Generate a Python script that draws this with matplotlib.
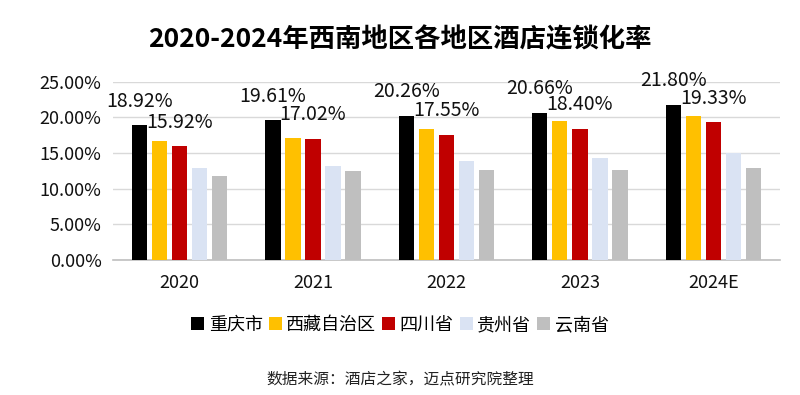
import numpy as np
import matplotlib
matplotlib.use("Agg")
import matplotlib.pyplot as plt
from matplotlib.patches import Patch

plt.rcParams['font.family'] = ['Noto Sans CJK SC', 'DejaVu Sans']

years = ['2020', '2021', '2022', '2023', '2024E']
regions = ['重庆市', '西藏自治区', '四川省', '贵州省', '云南省']
chongqing = [18.92, 19.61, 20.26, 20.66, 21.80]
xizang = [16.68, 17.15, 18.37, 19.54, 20.15]
sichuan = [15.92, 17.02, 17.55, 18.40, 19.33]
guizhou = [12.95, 13.18, 13.88, 14.26, 15.00]
yunnan = [11.73, 12.52, 12.58, 12.58, 12.86]
colors = ['#000000', '#FFC000', '#C00000', '#DAE3F3', '#BFBFBF']
labelled = [True, False, True, False, False]

series = [chongqing, xizang, sichuan, guizhou, yunnan]

fig = plt.figure(figsize=(8, 3.95), dpi=100)
ax = fig.add_axes([0.141, 0.342, 0.834, 0.451])

x = np.arange(len(years))
step = 0.15
width = 0.115
for i, (vals, c) in enumerate(zip(series, colors)):
    pos = x + (i - 2) * step
    ax.bar(pos, vals, width=width, color=c, zorder=3)
    if labelled[i]:
        for px, v in zip(pos, vals):
            ax.annotate(f'{v:.2f}%', (px, v), xytext=(0, 24), textcoords='offset pixels',
                        ha='center', va='center', fontsize=14, color='#111111', zorder=4)

ax.set_xlim(-0.5, len(years) - 0.5)
ax.set_ylim(0, 25)
ax.set_yticks(np.arange(0, 25.1, 5))
ax.set_yticklabels([f'{t:.2f}%' for t in np.arange(0, 25.1, 5)])
ax.set_xticks(x)
ax.set_xticklabels(years)
ax.tick_params(axis='both', length=0, labelsize=13, colors='#111111')
ax.tick_params(axis='x', pad=10)
ax.tick_params(axis='y', pad=8)
ax.grid(axis='y', color='#D9D9D9', linewidth=1, zorder=0)
for s in ['top', 'right', 'left']:
    ax.spines[s].set_visible(False)
ax.spines['bottom'].set_color('#BFBFBF')
ax.spines['bottom'].set_linewidth(1.2)

fig.text(0.5, 0.9, '2020-2024年西南地区各地区酒店连锁化率', ha='center', va='center',
         fontsize=19, fontweight='bold', color='#000000')

handles = [Patch(facecolor=c, edgecolor='none') for c in colors]
fig.legend(handles, regions, loc='center', bbox_to_anchor=(0.5, 0.177), ncol=5, frameon=False,
           fontsize=13, handlelength=0.7, handleheight=0.7, handletextpad=0.25, columnspacing=0.35)

fig.text(0.5, 0.038, '数据来源：酒店之家，迈点研究院整理', ha='center', va='center',
         fontsize=11.3, color='#222222')

fig.savefig('out.png', dpi=100)
